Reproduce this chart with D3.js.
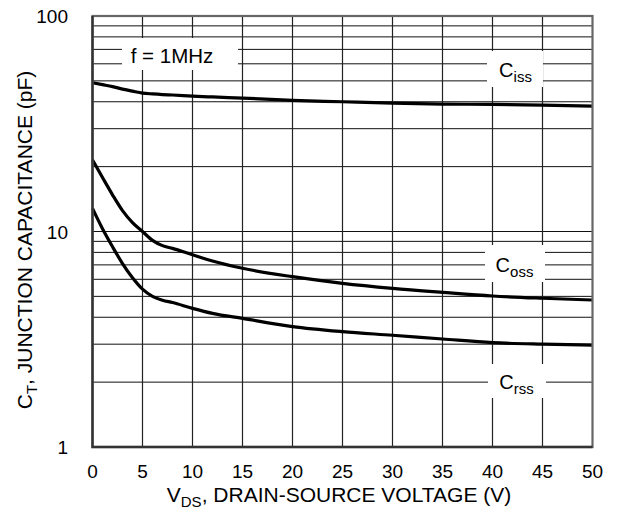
<!DOCTYPE html>
<html>
<head>
<meta charset="utf-8">
<script src="https://cdn.jsdelivr.net/npm/d3@7"></script>
<style>
  html, body { margin: 0; padding: 0; background: #fff; }
  svg { display: block; font-family: "Liberation Sans", Arial, Helvetica, sans-serif; }
</style>
</head>
<body>
<svg id="chart" width="620" height="521"></svg>
<script>
// Drain-source voltage sample points (V)
const vds = [0, 1, 2, 3, 4, 5, 6, 7, 8, 10, 12, 15, 20, 25, 30, 35, 40, 45, 50];
// Junction capacitances (pF)
const ciss = [49, 48, 47, 45.8, 44.8, 43.9, 43.5, 43.2, 43.0, 42.5, 42.1, 41.6, 40.6, 40.0, 39.4, 39.0, 38.9, 38.6, 38.2];
const coss = [21.5, 17.8, 14.8, 12.5, 11.0, 10.0, 9.1, 8.6, 8.35, 7.8, 7.3, 6.75, 6.17, 5.75, 5.45, 5.22, 5.02, 4.9, 4.81];
const crss = [12.8, 10.3, 8.5, 7.1, 6.1, 5.4, 5.0, 4.8, 4.68, 4.4, 4.17, 3.95, 3.62, 3.43, 3.3, 3.17, 3.05, 3.0, 2.97];

const xTicks = [0, 5, 10, 15, 20, 25, 30, 35, 40, 45, 50];
const yTicks = [1, 10, 100];

const svg = d3.select("#chart");
const plotL = 92.5, plotR = 592.5, plotT = 16, plotB = 447;

const x = d3.scaleLinear().domain([0, 50]).range([plotL, plotR]);
const y = d3.scaleLog().domain([1, 100]).range([plotB, plotT]);

// grid
const grid = svg.append("g");
const minor = [];
for (let d = 1; d < 100; d *= 10) for (let m = 2; m <= 9; m++) minor.push(m * d);
minor.push(10);
grid.selectAll("line.h").data(minor).join("line")
  .attr("x1", plotL).attr("x2", plotR)
  .attr("y1", d => y(d)).attr("y2", d => y(d))
  .attr("stroke", "#111").attr("stroke-width", 1);
grid.selectAll("line.v").data(xTicks.slice(1, -1)).join("line")
  .attr("y1", plotT).attr("y2", plotB)
  .attr("x1", d => x(d)).attr("x2", d => x(d))
  .attr("stroke", "#222").attr("stroke-width", 1.2);

// label plates masking the grid
const plates = [
  { x0: 122, x1: 238, y0: 38, y1: 70 },
  { x0: 487, x1: 543, y0: 51, y1: 87 },
  { x0: 485, x1: 545, y0: 245, y1: 282 },
  { x0: 488, x1: 546, y0: 364, y1: 398 }
];
svg.append("g").selectAll("rect").data(plates).join("rect")
  .attr("x", d => d.x0).attr("y", d => d.y0)
  .attr("width", d => d.x1 - d.x0).attr("height", d => d.y1 - d.y0)
  .attr("fill", "#fff");

// curves
const line = d3.line()
  .x((d, i) => x(vds[i]))
  .y(d => y(d))
  .curve(d3.curveMonotoneX);
const curves = svg.append("g");
[ciss, coss, crss].forEach(s => {
  curves.append("path").attr("d", line(s))
    .attr("fill", "none").attr("stroke", "#000").attr("stroke-width", 3.2)
    .attr("stroke-linejoin", "round");
});

// frame
svg.append("rect").attr("x", plotL).attr("y", plotT)
  .attr("width", plotR - plotL).attr("height", plotB - plotT)
  .attr("fill", "none").attr("stroke", "#666").attr("stroke-width", 2.2);
svg.append("path")
  .attr("d", `M${plotL},${plotT}V${plotB}H${plotR}`)
  .attr("fill", "none").attr("stroke", "#333").attr("stroke-width", 2.4);

// tick labels
svg.append("g").selectAll("text").data(xTicks).join("text")
  .attr("x", d => x(d)).attr("y", 478)
  .attr("text-anchor", "middle").attr("font-size", 19).text(d => d);
svg.append("g").selectAll("text").data(yTicks).join("text")
  .attr("x", 68).attr("y", d => y(d) + 7)
  .attr("text-anchor", "end").attr("font-size", 19).text(d => d);

// axis titles
const xt = svg.append("text").attr("x", 339).attr("y", 502)
  .attr("text-anchor", "middle").attr("font-size", 21);
xt.append("tspan").text("V");
xt.append("tspan").attr("font-size", 15).attr("dy", 5).text("DS");
xt.append("tspan").attr("dy", -5).text(", DRAIN-SOURCE VOLTAGE (V)");

const yt = svg.append("text").attr("transform", "translate(32,240) rotate(-90)")
  .attr("text-anchor", "middle").attr("font-size", 21);
yt.append("tspan").text("C");
yt.append("tspan").attr("font-size", 15).attr("dy", 5).text("T");
yt.append("tspan").attr("dy", -5).text(", JUNCTION CAPACITANCE (pF)");

// annotations
svg.append("text").attr("x", 172).attr("y", 63).attr("text-anchor", "middle")
  .attr("font-size", 20.5).text("f = 1MHz");

const labels = [
  { cx: 515.5, by: 77, sub: "iss" },
  { cx: 514.5, by: 272, sub: "oss" },
  { cx: 516.5, by: 388.5, sub: "rss" }
];
labels.forEach(l => {
  const t = svg.append("text").attr("x", l.cx).attr("y", l.by)
    .attr("text-anchor", "middle").attr("font-size", 20);
  t.append("tspan").text("C");
  t.append("tspan").attr("font-size", 15).attr("dy", 5).text(l.sub);
});
</script>
</body>
</html>
